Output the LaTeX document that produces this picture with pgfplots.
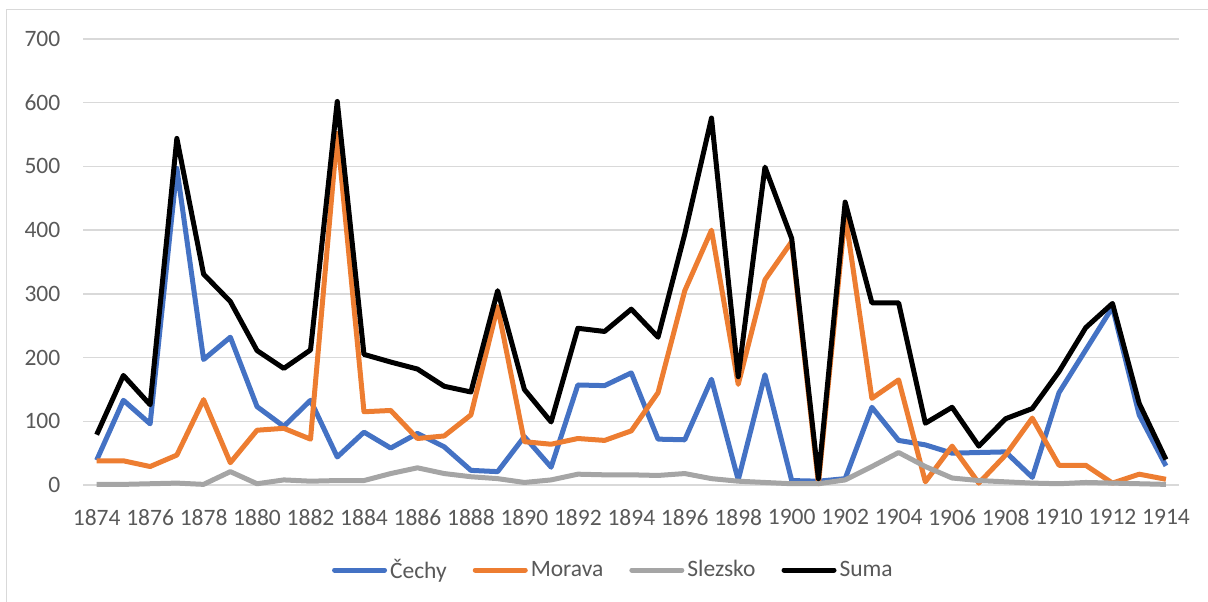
\documentclass[border=0pt]{standalone}
\usepackage{fontspec}
\setmainfont{Carlito}
\usepackage{pgfplots}
\usepackage{pgfplotstable}
\pgfplotsset{compat=1.18}
\definecolor{cech}{HTML}{4472C4}
\definecolor{mor}{HTML}{ED7D31}
\definecolor{slez}{HTML}{A5A5A5}
\definecolor{gridc}{HTML}{D9D9D9}
\definecolor{txt}{HTML}{595959}
\pgfplotstableread{
year cechy morava slezsko suma
1874 39 38 1 79
1875 133 38 1 172
1876 96 29 2 126
1877 497 47 3 544
1878 197 134 1 331
1879 232 35 21 288
1880 123 86 2 211
1881 92 89 8 183
1882 133 72 6 212
1883 44 552 7 602
1884 83 115 7 205
1885 58 117 18 193
1886 81 73 27 182
1887 60 77 18 155
1888 23 110 13 146
1889 21 280 10 305
1890 76 68 4 150
1891 28 64 8 99
1892 157 73 17 246
1893 156 70 16 241
1894 176 85 16 276
1895 72 145 15 232
1896 71 305 18 394
1897 166 400 10 576
1898 8 158 6 170
1899 173 322 4 499
1900 7 382 2 387
1901 6 2 2 10
1902 10 425 8 444
1903 122 136 29 286
1904 70 165 51 286
1905 63 5 29 97
1906 50 61 11 122
1907 51 3 7 61
1908 52 47 5 104
1909 12 105 3 120
1910 145 31 2 178
1911 212 31 4 247
1912 279 3 3 285
1913 110 17 2 128
1914 30 9 1 40
}\datatable
\begin{document}
\begin{tikzpicture}
\useasboundingbox (0,0) rectangle (604pt,-300.5pt);
\draw[color=gridc, line width=0.6pt] (3.35pt,-301pt) -- (3.35pt,-4.65pt) -- (605pt,-4.65pt);
\begin{axis}[
  at={(41.65pt,-242.5pt)}, anchor=south west,
  scale only axis, width=548pt, height=223pt,
  xmin=1873.5, xmax=1914.5, ymin=0, ymax=700,
  xtick={1874,1876,...,1914}, ytick={0,100,...,700},
  axis line style={draw=none},
  major tick length=0pt,
  ymajorgrids, grid style={color=gridc, line width=0.75pt},
  clip=false,
  /pgf/number format/assume math mode=true,
  /pgf/number format/1000 sep={},
  ticklabel style={font=\fontsize{11.75}{13}\selectfont, text=txt},
  yticklabel style={anchor=east, inner sep=0pt, xshift=-11.3pt},
  xticklabel style={anchor=north, inner sep=0pt, yshift=-12.15pt},
  legend columns=4,
  legend style={at={(0.2266,-0.1906)}, anchor=west, draw=none, inner sep=0pt,
    font=\fontsize{11.75}{13}\selectfont, text=txt,
    nodes={inner xsep=0pt, inner ysep=1pt},
    /tikz/every odd column/.append style={column sep=1.5pt},
    /tikz/every even column/.append style={column sep=13pt}},
  legend image code/.code={\draw[#1, line cap=round] (1.25pt,0pt) -- (26.25pt,0pt);},
  every axis plot/.append style={line width=2.5pt, line join=round},
]
\addplot[color=cech] table[x=year, y=cechy] {\datatable};
\addlegendentry{Čechy}
\addplot[color=mor] table[x=year, y=morava] {\datatable};
\addlegendentry{Morava}
\addplot[color=slez] table[x=year, y=slezsko] {\datatable};
\addlegendentry{Slezsko}
\addplot[color=black] table[x=year, y=suma] {\datatable};
\addlegendentry{Suma}
\end{axis}
\end{tikzpicture}
\end{document}
